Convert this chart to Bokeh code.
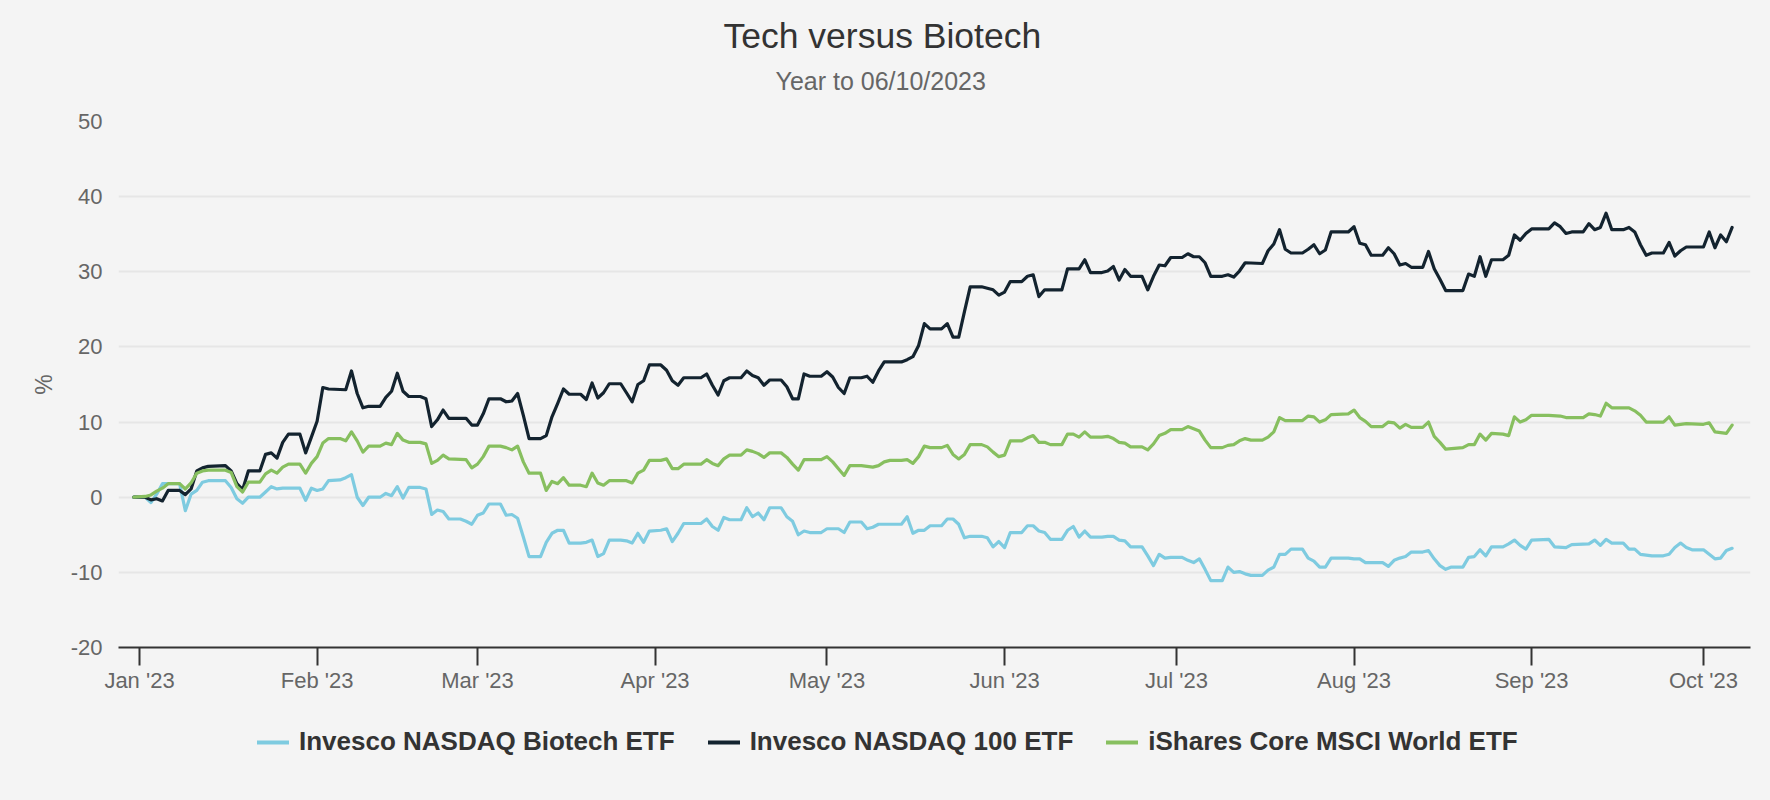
import pandas as pd
from bokeh.plotting import figure
from bokeh.layouts import column
from bokeh.models import (Range1d, FixedTicker, MonthsTicker, DatetimeTickFormatter,
                          Legend, LegendItem, Title)
from bokeh.embed import file_html
from bokeh.resources import INLINE

# ---------------- data (cumulative % return, days counted from 1 Jan 2023) ----------------
base_date = "2023-01-01"

biotech_days = [-1, 1, 2, 3, 4, 7, 8, 9, 10, 11, 12, 15, 16, 17, 18, 19, 21, 22, 23, 24, 25, 28, 29, 30,
                31, 32, 33, 35, 36, 37, 38, 39, 40, 42, 43, 44, 45, 46, 47, 49, 50, 51, 52, 53, 54, 56,
                57, 58, 59, 60, 61, 63, 64, 65, 66, 67, 68, 70, 71, 72, 73, 74, 75, 77, 78, 79, 80, 81,
                82, 84, 85, 86, 87, 88, 89, 91, 92, 93, 94, 95, 98, 99, 100, 101, 102, 103, 105, 106,
                107, 108, 109, 110, 112, 113, 114, 115, 116, 117, 119, 120, 122, 123, 124, 126, 127,
                128, 129, 133, 134, 135, 136, 137, 138, 140, 141, 142, 143, 144, 145, 147, 148, 149,
                150, 151, 152, 154, 155, 156, 157, 158, 159, 161, 162, 163, 164, 165, 166, 168, 169,
                170, 171, 172, 173, 175, 176, 177, 178, 179, 180, 182, 183, 184, 185, 186, 187, 189,
                190, 191, 192, 193, 194, 196, 197, 198, 199, 200, 201, 203, 204, 205, 206, 207, 208,
                211, 212, 213, 214, 217, 218, 219, 220, 221, 222, 224, 225, 226, 227, 228, 229, 231,
                232, 233, 234, 235, 236, 238, 239, 240, 241, 242, 243, 246, 247, 249, 250, 253, 254,
                255, 256, 257, 259, 260, 261, 262, 264, 266, 267, 268, 269, 270, 271, 273, 274, 275,
                276, 277, 278]
biotech_pct = [0.0, 0.0, -0.7, 0.4, 1.8, 1.8, -1.8, 0.4, 0.9, 2.0, 2.2, 2.2, 1.3, -0.2, -0.8, 0.0, 0.0,
               0.7, 1.4, 1.1, 1.2, 1.2, -0.4, 1.2, 0.9, 1.1, 2.2, 2.3, 2.6, 3.0, 0.0, -1.1, 0.0, 0.0,
               0.5, 0.2, 1.4, -0.1, 1.3, 1.3, 1.1, -2.3, -1.7, -1.9, -2.9, -2.9, -3.2, -3.6, -2.4,
               -2.1, -0.9, -0.9, -2.4, -2.3, -2.8, -5.3, -7.9, -7.9, -6.0, -4.8, -4.4, -4.4, -6.1,
               -6.1, -6.0, -5.7, -7.9, -7.5, -5.7, -5.7, -5.8, -6.1, -4.8, -6.0, -4.5, -4.4, -4.2,
               -5.9, -4.8, -3.5, -3.5, -2.9, -3.9, -4.4, -2.7, -3.0, -3.0, -1.4, -2.6, -2.1, -3.0,
               -1.4, -1.4, -2.6, -3.2, -5.0, -4.5, -4.7, -4.7, -4.2, -4.2, -4.7, -3.3, -3.3, -4.2,
               -4.0, -3.6, -3.6, -2.6, -4.8, -4.4, -4.4, -3.8, -3.8, -2.9, -2.9, -3.6, -5.4, -5.2,
               -5.2, -5.4, -6.6, -5.9, -6.7, -4.7, -4.7, -3.8, -3.8, -4.5, -4.7, -5.6, -5.6, -4.4,
               -3.9, -5.3, -4.5, -5.3, -5.3, -5.2, -5.2, -5.7, -5.8, -6.6, -6.6, -7.8, -9.1, -7.6,
               -8.1, -8.0, -8.0, -8.4, -8.7, -8.2, -9.6, -11.1, -11.1, -9.3, -10.0, -9.9, -10.2,
               -10.4, -10.4, -9.7, -9.3, -7.6, -7.6, -6.9, -6.9, -8.1, -8.5, -9.3, -9.3, -8.1, -8.1,
               -8.2, -8.2, -8.7, -8.7, -9.2, -8.4, -8.1, -7.9, -7.3, -7.3, -7.1, -8.2, -9.1, -9.6,
               -9.3, -9.3, -8.0, -7.9, -7.0, -7.8, -6.6, -6.6, -6.2, -5.7, -6.4, -6.9, -5.7, -5.6,
               -6.6, -6.7, -6.3, -6.2, -5.7, -6.4, -5.6, -6.1, -6.1, -6.9, -6.9, -7.6, -7.8, -7.8,
               -7.6, -6.7, -6.1, -6.7, -7.0, -7.0, -7.6, -8.2, -8.1, -7.1, -6.8]

nasdaq100_days = [-1, 1, 2, 3, 4, 5, 7, 8, 9, 10, 11, 12, 15, 16, 17, 18, 19, 21, 22, 23, 24, 25, 26, 28,
                  29, 30, 31, 32, 33, 36, 37, 38, 39, 40, 42, 43, 44, 45, 46, 47, 49, 50, 51, 52, 53,
                  54, 57, 58, 59, 60, 61, 63, 64, 65, 66, 67, 68, 70, 71, 72, 73, 74, 75, 77, 78, 79,
                  80, 81, 82, 84, 85, 86, 87, 88, 89, 91, 92, 93, 94, 95, 98, 99, 100, 101, 102, 103,
                  105, 106, 107, 108, 109, 110, 112, 113, 114, 115, 116, 117, 119, 120, 121, 122, 123,
                  124, 126, 127, 128, 129, 130, 133, 134, 135, 136, 137, 138, 140, 141, 142, 143, 144,
                  145, 147, 148, 149, 150, 151, 152, 154, 155, 156, 157, 158, 161, 162, 164, 165, 166,
                  168, 169, 170, 171, 172, 173, 175, 176, 177, 178, 179, 180, 182, 183, 184, 185, 186,
                  187, 189, 190, 191, 192, 193, 196, 197, 198, 199, 200, 201, 203, 204, 205, 206, 207,
                  208, 211, 212, 213, 214, 215, 217, 218, 219, 220, 221, 222, 224, 225, 226, 227, 228,
                  231, 232, 233, 234, 235, 236, 238, 239, 240, 241, 242, 243, 246, 247, 248, 249, 250,
                  252, 253, 254, 255, 256, 257, 259, 260, 261, 262, 263, 264, 266, 267, 268, 269, 270,
                  273, 274, 275, 276, 277, 278]
nasdaq100_pct = [0.0, 0.0, -0.35, -0.2, -0.5, 0.9, 0.9, 0.35, 1.1, 3.5, 3.9, 4.1, 4.2, 3.5, 1.8, 1.0,
                 3.5, 3.5, 5.7, 5.9, 5.2, 7.3, 8.4, 8.4, 5.9, 8.0, 10.1, 14.6, 14.4, 14.3, 16.8, 13.8,
                 11.9, 12.1, 12.1, 13.3, 14.1, 16.5, 14.1, 13.4, 13.4, 13.1, 9.4, 10.3, 11.6, 10.5,
                 10.5, 9.6, 9.6, 11.1, 13.1, 13.1, 12.7, 12.8, 13.8, 10.9, 7.8, 7.8, 8.2, 10.7, 12.5,
                 14.4, 13.7, 13.7, 13.0, 15.2, 13.2, 13.9, 15.1, 15.1, 13.9, 12.7, 15.0, 15.5, 17.6,
                 17.6, 16.9, 15.5, 14.9, 15.9, 15.9, 16.4, 14.9, 13.6, 15.5, 15.9, 15.9, 16.8, 16.2,
                 15.9, 14.9, 15.6, 15.6, 14.7, 13.1, 13.1, 16.4, 16.1, 16.1, 16.7, 16.0, 14.6, 13.8,
                 15.9, 15.9, 16.1, 15.3, 16.8, 18.0, 18.0, 18.3, 18.7, 20.2, 23.1, 22.4, 22.4, 23.1,
                 21.3, 21.3, 24.7, 28.0, 28.0, 27.8, 27.6, 26.9, 27.3, 28.7, 28.7, 29.4, 29.6, 26.7,
                 27.6, 27.6, 30.4, 30.4, 31.6, 29.9, 29.9, 30.1, 30.7, 28.9, 30.3, 29.4, 29.4, 27.6,
                 29.4, 30.9, 30.8, 31.9, 31.9, 32.4, 32.0, 32.0, 31.2, 29.4, 29.4, 29.6, 29.3, 30.1,
                 31.2, 31.1, 32.8, 33.7, 35.6, 33.0, 32.5, 32.5, 33.0, 33.6, 32.4, 32.9, 35.3, 35.3,
                 36.0, 33.8, 33.6, 32.2, 32.2, 33.2, 32.4, 30.9, 31.1, 30.6, 30.6, 32.7, 30.4, 29.0,
                 27.5, 27.5, 29.7, 29.4, 32.0, 29.4, 31.6, 31.6, 32.2, 34.9, 34.2, 35.1, 35.7, 35.7,
                 36.5, 36.0, 35.1, 35.3, 35.3, 36.4, 35.6, 35.9, 37.8, 35.6, 35.6, 35.9, 35.3, 33.6,
                 32.2, 32.5, 32.5, 33.9, 32.1, 32.8, 33.3, 33.3, 35.3, 33.2, 34.9, 34.0, 35.9]

world_days = [-1, 1, 2, 3, 4, 5, 7, 8, 9, 10, 11, 12, 15, 16, 17, 18, 19, 21, 22, 23, 24, 25, 26, 28, 29,
              30, 31, 32, 33, 35, 36, 37, 38, 39, 40, 42, 43, 44, 45, 46, 47, 49, 50, 51, 52, 53, 54,
              57, 58, 59, 60, 61, 63, 64, 65, 66, 67, 68, 70, 71, 72, 73, 74, 75, 77, 78, 79, 80, 81,
              82, 85, 86, 87, 88, 89, 91, 92, 93, 94, 95, 98, 99, 100, 101, 102, 103, 105, 106, 107,
              108, 109, 110, 112, 113, 114, 115, 116, 119, 120, 121, 122, 123, 124, 126, 127, 128,
              129, 130, 131, 133, 134, 135, 136, 137, 138, 140, 141, 142, 143, 144, 145, 147, 148,
              149, 150, 151, 152, 154, 155, 156, 157, 158, 159, 161, 162, 163, 164, 165, 166, 168,
              169, 170, 171, 172, 173, 175, 176, 177, 178, 179, 180, 182, 183, 184, 185, 186, 187,
              189, 190, 191, 192, 193, 194, 196, 197, 198, 199, 200, 203, 204, 205, 206, 207, 208,
              211, 212, 213, 214, 215, 217, 218, 219, 220, 221, 222, 224, 225, 226, 227, 228, 231,
              232, 233, 234, 235, 236, 238, 239, 240, 241, 242, 243, 246, 248, 249, 252, 253, 254,
              255, 256, 257, 260, 261, 262, 263, 266, 267, 268, 270, 273, 274, 275, 277, 278]
world_pct = [0.0, 0.1, 0.3, 0.8, 1.2, 1.8, 1.8, 1.1, 1.9, 3.2, 3.5, 3.6, 3.6, 3.3, 1.4, 0.7, 2.0, 2.0,
             3.1, 3.6, 3.2, 4.0, 4.4, 4.4, 3.2, 4.5, 5.4, 7.2, 7.8, 7.8, 7.5, 8.7, 7.5, 6.0, 6.8, 6.8,
             7.2, 7.0, 8.5, 7.6, 7.3, 7.3, 7.1, 4.5, 4.9, 5.6, 5.1, 5.0, 3.9, 4.4, 5.4, 6.8, 6.8, 6.6,
             6.3, 6.8, 4.7, 3.2, 3.2, 0.9, 2.1, 1.8, 2.6, 1.6, 1.6, 1.4, 3.2, 1.9, 1.6, 2.2, 2.2, 1.9,
             3.2, 3.6, 4.9, 4.9, 5.1, 3.8, 3.8, 4.4, 4.4, 5.0, 4.5, 4.2, 5.1, 5.6, 5.6, 6.3, 6.1, 5.8,
             5.3, 5.9, 5.9, 5.3, 4.4, 3.6, 5.0, 5.0, 5.4, 4.7, 3.8, 2.9, 4.2, 4.2, 4.1, 4.0, 4.2, 4.7,
             4.9, 4.9, 5.0, 4.5, 5.4, 6.8, 6.6, 6.6, 6.9, 5.7, 5.1, 5.7, 7.0, 7.0, 6.7, 6.0, 5.4, 5.6,
             7.5, 7.5, 7.9, 8.2, 7.3, 7.3, 7.0, 7.0, 8.4, 8.4, 8.0, 8.7, 8.0, 8.0, 8.1, 7.8, 7.3, 7.2,
             6.7, 6.7, 6.3, 7.1, 8.2, 8.5, 9.0, 9.0, 9.4, 9.1, 8.8, 7.6, 6.6, 6.6, 6.9, 7.0, 7.5, 7.8,
             7.6, 7.6, 8.0, 8.7, 10.6, 10.2, 10.2, 10.8, 10.7, 10.0, 10.3, 11.0, 11.1, 11.6, 10.6,
             10.1, 9.4, 9.4, 10.0, 9.9, 9.2, 9.7, 9.3, 9.3, 10.0, 8.1, 7.3, 6.4, 6.6, 7.0, 7.0, 8.4,
             7.6, 8.5, 8.4, 8.2, 10.7, 10.0, 10.3, 10.9, 10.9, 10.8, 10.6, 10.6, 11.1, 11.0, 10.8,
             12.5, 11.9, 11.9, 11.5, 10.9, 10.0, 10.0, 10.7, 9.6, 9.8, 9.7, 9.9, 8.7, 8.5, 9.6]

series_names = ["Invesco NASDAQ Biotech ETF", "Invesco NASDAQ 100 ETF", "iShares Core MSCI World ETF"]
series_colors = ["#7ecbe0", "#13232f", "#87bf5f"]
y_ticks = [-20, -10, 0, 10, 20, 30, 40, 50]
title_text = "Tech versus Biotech"
subtitle_text = "Year to 06/10/2023"

FONT = "Liberation Sans"
BG = "#f4f4f4"
W = 1770


def to_dates(days):
    return pd.Timestamp(base_date) + pd.to_timedelta(days, unit="D")


series = [(biotech_days, biotech_pct), (nasdaq100_days, nasdaq100_pct), (world_days, world_pct)]

p = figure(width=W, height=700, x_axis_type="datetime", output_backend="svg",
           toolbar_location=None, title=None,
           x_range=Range1d(pd.Timestamp("2022-12-28 08:00"), pd.Timestamp("2023-10-09 05:00")),
           y_range=Range1d(-20, 50),
           background_fill_color=BG, border_fill_color=BG,
           min_border_left=118, min_border_right=20, min_border_top=121, min_border_bottom=53)
p.outline_line_color = None

for (days, vals), color in zip(series, series_colors):
    p.line(to_dates(days), vals, line_color=color, line_width=3.2,
           line_join="round", line_cap="round")

# y axis
p.yaxis.ticker = FixedTicker(ticks=y_ticks)
p.yaxis.major_label_overrides = {t: str(t) for t in y_ticks}
p.yaxis.axis_line_color = None
p.yaxis.major_tick_line_color = None
p.yaxis.major_tick_out = 0
p.yaxis.major_tick_in = 0
p.yaxis.minor_tick_line_color = None
p.yaxis.minor_tick_out = 0
p.yaxis.minor_tick_in = 0
p.yaxis.major_label_text_font = FONT
p.yaxis.major_label_text_font_size = "22px"
p.yaxis.major_label_text_color = "#666666"
p.yaxis.major_label_standoff = 16
p.yaxis.axis_label = "%"
p.yaxis.axis_label_text_font = FONT
p.yaxis.axis_label_text_font_size = "23px"
p.yaxis.axis_label_text_font_style = "normal"
p.yaxis.axis_label_text_color = "#666666"
p.yaxis.axis_label_standoff = 11

p.ygrid.grid_line_color = "#e6e6e6"
p.ygrid.grid_line_width = 2
p.xgrid.visible = False

# x axis
p.xaxis.ticker = MonthsTicker(months=list(range(12)))
p.xaxis.formatter = DatetimeTickFormatter(days="%b '%y", months="%b '%y", years="%b '%y")
p.xaxis.axis_line_color = "#333333"
p.xaxis.axis_line_width = 2
p.xaxis.major_tick_line_color = "#333333"
p.xaxis.major_tick_line_width = 2
p.xaxis.major_tick_out = 18
p.xaxis.major_tick_in = 0
p.xaxis.minor_tick_line_color = None
p.xaxis.minor_tick_out = 0
p.xaxis.major_label_text_font = FONT
p.xaxis.major_label_text_font_size = "22px"
p.xaxis.major_label_text_color = "#666666"
p.xaxis.major_label_standoff = 2

# titles (first added sits closest to the plot)
sub = Title(text=subtitle_text, align="left", offset=657, text_font=FONT, text_font_size="25px",
            text_font_style="normal", text_color="#666666", standoff=53)
main = Title(text=title_text, align="left", offset=605, text_font=FONT, text_font_size="35.5px",
             text_font_style="normal", text_color="#333333", standoff=-34)
p.add_layout(sub, "above")
p.add_layout(main, "above")

# legend strip below the chart (key lines use the series data but lie outside this strip's view)
lg = figure(width=W, height=100, output_backend="svg", toolbar_location=None, title=None,
            x_axis_location=None, y_axis_location=None, x_range=Range1d(0, 1), y_range=Range1d(0, 1),
            background_fill_color=BG, border_fill_color=BG, min_border=0)
lg.outline_line_color = None
lg.grid.visible = False
key_renderers = [lg.line(to_dates(days), vals, line_color=c, line_width=4, line_cap="round")
                 for (days, vals), c in zip(series, series_colors)]

legend = Legend(items=[LegendItem(label=n, renderers=[r]) for n, r in zip(series_names, key_renderers)],
                orientation="horizontal", location=(139, 43),
                label_text_font=FONT, label_text_font_style="bold", label_text_font_size="26px",
                label_text_color="#333333", glyph_width=32, glyph_height=20, label_height=20,
                label_standoff=10, spacing=33, padding=0, margin=0,
                border_line_color=None, background_fill_alpha=0)
lg.add_layout(legend, "center")

layout = column(p, lg, spacing=0)
page_template = """{% block preamble %}<style>html, body { background: #f4f4f4; }</style>{% endblock %}"""
open("out.html", "w").write(file_html(layout, INLINE, template=page_template))
